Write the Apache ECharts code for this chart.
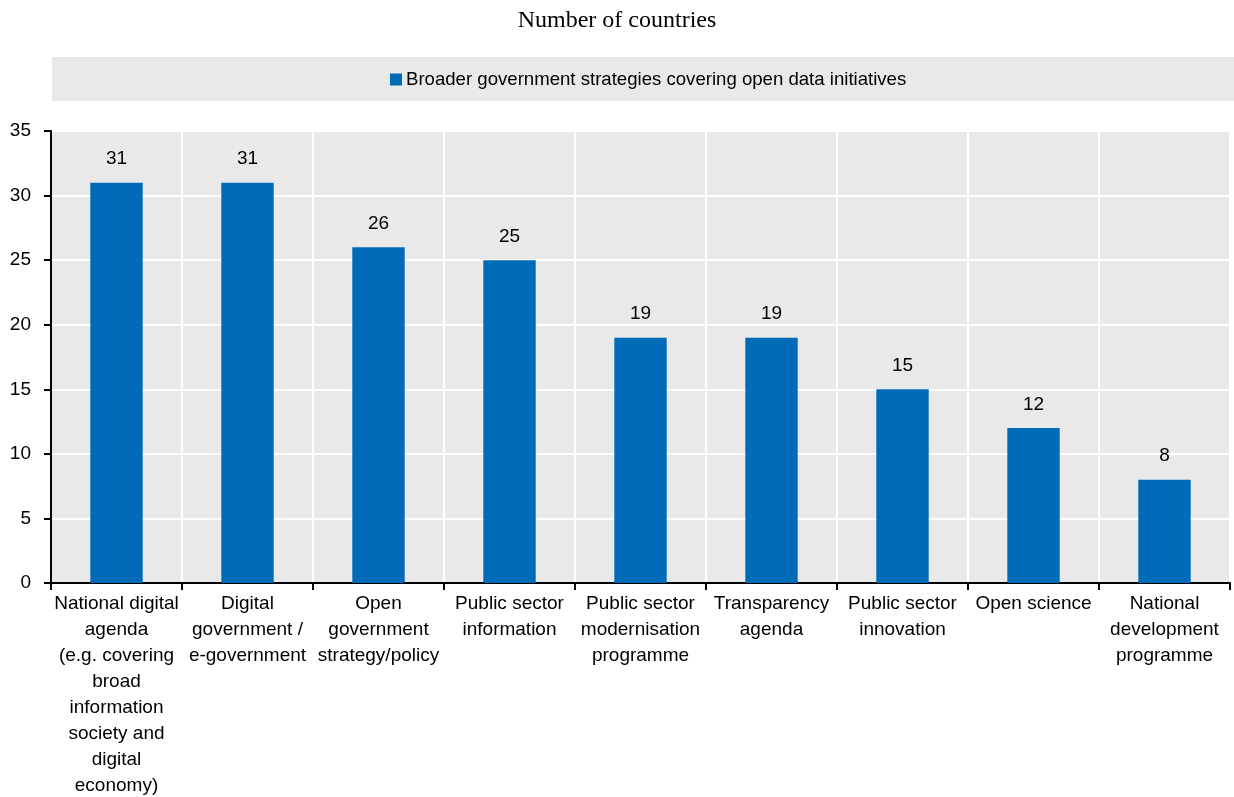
<!DOCTYPE html>
<html>
<head>
<meta charset="utf-8">
<script src="https://cdn.jsdelivr.net/npm/echarts@6/dist/echarts.min.js"></script>
<style>
  html, body { margin: 0; padding: 0; background: #fff; }
  #chart { width: 1234px; height: 797px; }
</style>
</head>
<body>
<div id="chart"></div>
<script>
const categories = [
  'National digital\nagenda\n(e.g. covering\nbroad\ninformation\nsociety and\ndigital\neconomy)',
  'Digital\ngovernment /\ne-government',
  'Open\ngovernment\nstrategy/policy',
  'Public sector\ninformation',
  'Public sector\nmodernisation\nprogramme',
  'Transparency\nagenda',
  'Public sector\ninnovation',
  'Open science',
  'National\ndevelopment\nprogramme'
];
const countries = [31, 31, 26, 25, 19, 19, 15, 12, 8];
const seriesName = 'Broader government strategies covering open data initiatives';
const yTicks = { min: 0, max: 35, interval: 5 };

const FONT = '"Liberation Sans Narrow", "Arial Narrow", "Liberation Sans", Arial, sans-serif';
const chart = echarts.init(document.getElementById('chart'));
chart.setOption({
  animation: false,
  title: {
    text: 'Number of countries',
    left: 'center',
    top: 4,
    textStyle: { fontFamily: '"Liberation Serif", "Times New Roman", serif', fontWeight: 'normal', fontSize: 24, color: '#000' }
  },
  graphic: [{
    type: 'rect',
    shape: { x: 52, y: 57, width: 1182, height: 44 },
    style: { fill: '#e9e9e9' },
    z: -1
  }],
  legend: {
    top: 70,
    left: 390,
    padding: 0,
    itemWidth: 12,
    itemHeight: 12,
    icon: 'rect',
    textStyle: { fontFamily: FONT, fontSize: 18.6, color: '#000', padding: [0, 0, 0, -1] },
    data: [seriesName]
  },
  grid: {
    left: 51, right: 4, top: 131, bottom: 214,
    outerBoundsMode: 'none',
    backgroundColor: '#e9e9e9', show: true, borderWidth: 0
  },
  xAxis: {
    type: 'category',
    data: categories,
    axisLine: { lineStyle: { color: '#000', width: 2 } },
    axisTick: { show: true, length: 7, lineStyle: { color: '#000', width: 2 } },
    splitLine: { show: true, lineStyle: { color: '#fff', width: 2 } },
    axisLabel: { fontFamily: FONT, fontSize: 19, color: '#000', lineHeight: 26, margin: 8, interval: 0 }
  },
  yAxis: {
    type: 'value',
    min: yTicks.min,
    max: yTicks.max,
    interval: yTicks.interval,
    axisLine: { show: true, lineStyle: { color: '#000', width: 2 } },
    axisTick: { show: true, length: 7, lineStyle: { color: '#000', width: 2 } },
    splitLine: { show: true, lineStyle: { color: '#fff', width: 2 } },
    axisLabel: { fontFamily: FONT, fontSize: 19, color: '#000', margin: 20 }
  },
  series: [{
    name: seriesName,
    type: 'bar',
    data: countries,
    barWidth: '40%',
    itemStyle: { color: '#006bb6' },
    label: { show: true, position: 'top', distance: 14, fontFamily: FONT, fontSize: 19, color: '#000' }
  }]
});
</script>
</body>
</html>
